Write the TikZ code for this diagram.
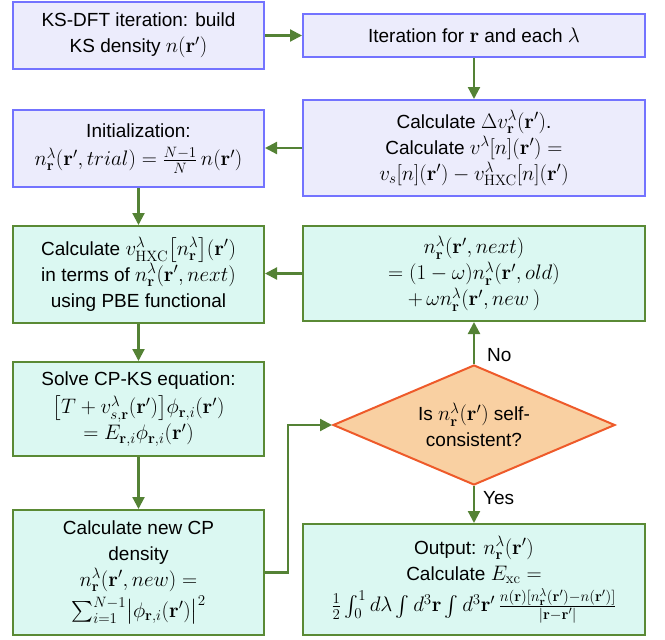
\RequirePackage{fix-cm}
\documentclass[tikz,border=0pt]{standalone}
\usepackage{amsmath}
\usepackage[no-math]{fontspec}
\setmainfont{Liberation Sans}
\DeclareMathSizes{19}{21}{15}{11.5}
\usetikzlibrary{arrows.meta,shapes.geometric}
\definecolor{bluebd}{HTML}{7373FF}
\definecolor{bluefill}{HTML}{ECECFC}
\definecolor{greenbd}{HTML}{5A8A35}
\definecolor{greenfill}{HTML}{DBF8F2}
\definecolor{arrowc}{HTML}{548235}
\definecolor{diafill}{HTML}{F9D0A2}
\definecolor{diabd}{HTML}{EE5A2A}
\newcommand{\br}{\mathbf{r}}
\newcommand{\nrl}{n_{\br}^{\lambda}}
\begin{document}
\begin{tikzpicture}[x=1pt,y=-1pt,
  boxtext/.style={inner sep=0pt, align=center, font=\fontsize{19}{26}\selectfont},
  bluebox/.style={boxtext, draw=bluebd, fill=bluefill, line width=2pt},
  greenbox/.style={boxtext, draw=greenbd, fill=greenfill, line width=2pt},
  decision/.style={boxtext, diamond, draw=diabd, fill=diafill, line width=2pt, aspect=2.35},
  arr/.style={draw=arrowc, line width=2.2pt, -{Triangle[length=12pt,width=12pt]}},
  lbl/.style={font=\fontsize{19}{22}\selectfont, anchor=west, inner sep=0pt}
]
\useasboundingbox (0,0) rectangle (665,640);

\node[bluebox, minimum width=251pt, minimum height=67pt] (ks) at (138.5,35.5)
  {KS-DFT iteration: build\\KS density $n(\br')$};
\node[bluebox, minimum width=342pt, minimum height=43pt] (it) at (474,35.5)
  {Iteration for $\br$ and each $\lambda$};
\node[bluebox, minimum width=342pt, minimum height=96pt] (dv) at (474,148)
  {Calculate $\Delta v_{\br}^{\lambda}(\br')$.\\
   Calculate $v^{\lambda}[n](\br')=$\\
   $v_s[n](\br')-v_{\mathrm{HXC}}^{\lambda}[n](\br')$};
\node[bluebox, minimum width=251pt, minimum height=77pt] (init) at (138.5,148.5)
  {Initialization:\\[2pt]
   $\nrl(\br',trial)=\frac{N-1}{N}\,n(\br')$};
\node[greenbox, minimum width=251pt, minimum height=97pt] (hxc) at (138.5,274.5)
  {Calculate $v_{\mathrm{HXC}}^{\lambda}\bigl[\nrl\bigr](\br')$\\
   in terms of $\nrl(\br',next)$\\
   using PBE functional};
\node[greenbox, minimum width=342pt, minimum height=95pt] (next) at (474,273.5)
  {$\nrl(\br',next)$\\
   $=(1-\omega)\nrl(\br',old)$\\
   $+\,\omega\nrl(\br',new\,)$};
\node[greenbox, minimum width=251pt, minimum height=94pt] (solve) at (138.5,409)
  {Solve CP-KS equation:\\[2pt]
   $\bigl[T+v_{s,\br}^{\lambda}(\br')\bigr]\phi_{\br,i}(\br')$\\
   $=E_{\br,i}\phi_{\br,i}(\br')$\hspace{66pt}};
\node[decision, minimum width=282pt, minimum height=120pt] (dia) at (474,425)
  {Is $\nrl(\br')$ self-\\consistent?};
\node[greenbox, minimum width=251pt, minimum height=125pt] (newcp) at (138.5,572.5)
  {Calculate new CP\\density\\
   $\nrl(\br',new)=$\\[3pt]
   $\sum_{i=1}^{N-1}\bigl|\phi_{\br,i}(\br')\bigr|^2$};
\node[greenbox, minimum width=342pt, minimum height=111pt] (out) at (474,579.5)
  {Output: $\nrl(\br')$\\
   Calculate $E_{\mathrm{xc}}=$\\[4pt]
   $\frac{1}{2}\int_0^1 d\lambda\int d^3\br\int d^3\br'\,
   \frac{n(\br)[\nrl(\br')-n(\br')]}{|\br-\br'|}$};

\draw[arr] (ks) -- (it);
\draw[arr] (it) -- (dv);
\draw[arr] (dv.west) -- (dv.west -| init.east);
\draw[arr] (init) -- (hxc);
\draw[arr] (next.west) -- (next.west -| hxc.east);
\draw[arr] (hxc) -- (solve);
\draw[arr] (solve) -- (newcp);
\draw[arr] (newcp.east) -- ++(23,0) |- (dia.west);
\draw[arr] (dia.north) -- node[lbl, pos=0.22, xshift=12pt] {No} (next.south);
\draw[arr] (dia.south) -- node[lbl, pos=0.33, xshift=8pt] {Yes} (out.north);
\end{tikzpicture}
\end{document}
